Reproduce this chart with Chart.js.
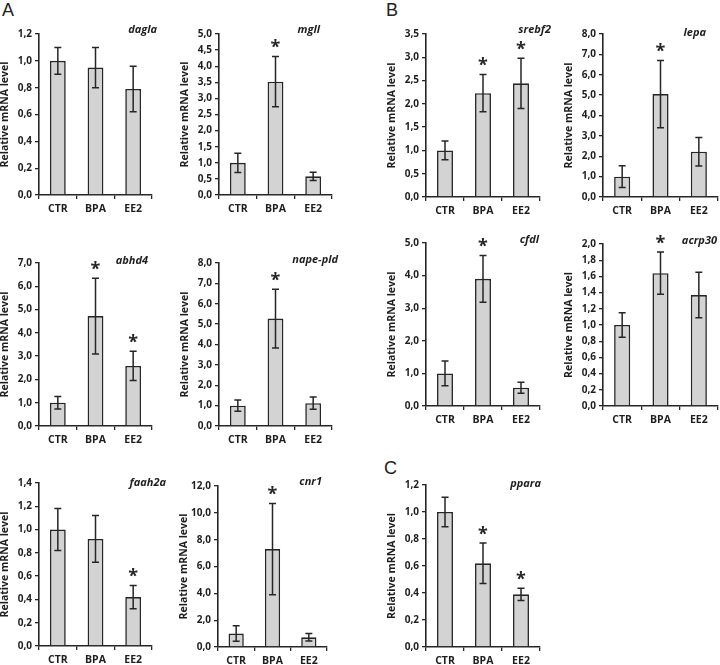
<!DOCTYPE html>
<html><head><meta charset="utf-8">
<script src="https://cdn.jsdelivr.net/npm/chart.js@4"></script>
<style>
body{margin:0;background:#fff;width:720px;height:665px;position:relative;overflow:hidden;font-family:'Liberation Sans',Arial,sans-serif}
canvas.c{position:absolute}
.lbl{position:absolute;font-size:18px;color:#222;line-height:1}
</style></head><body>
<div class="lbl" style="left:2px;top:1px">A</div>
<div class="lbl" style="left:386px;top:1px">B</div>
<div class="lbl" style="left:384px;top:459px">C</div>
<script>
// ---- data ----
const categories = ['CTR', 'BPA', 'EE2'];
const geneNames = ['dagla','mgll','abhd4','nape-pld','faah2a','cnr1','srebf2','lepa','cfdl','acrp30','ppara'];

const daglaMean = [1.00, 0.95, 0.79];   const daglaErr = [0.10, 0.15, 0.17];   const daglaSig = [0,0,0];
const mgllMean = [1.00, 3.52, 0.58];    const mgllErr = [0.30, 0.78, 0.13];    const mgllSig = [0,1,0];
const abhd4Mean = [1.00, 4.72, 2.58];   const abhd4Err = [0.27, 1.63, 0.63];   const abhd4Sig = [0,1,1];
const napeMean = [1.00, 5.27, 1.12];    const napeErr = [0.28, 1.44, 0.30];    const napeSig = [0,1,0];
const faahMean = [1.00, 0.92, 0.42];    const faahErr = [0.18, 0.20, 0.10];    const faahSig = [0,0,1];
const cnr1Mean = [1.00, 7.30, 0.72];    const cnr1Err = [0.58, 3.40, 0.28];    const cnr1Sig = [0,1,0];
const srebf2Mean = [1.00, 2.23, 2.44];  const srebf2Err = [0.20, 0.40, 0.54];  const srebf2Sig = [0,1,1];
const lepaMean = [1.00, 5.05, 2.22];    const lepaErr = [0.53, 1.65, 0.70];    const lepaSig = [0,1,0];
const cfdlMean = [1.00, 3.90, 0.56];    const cfdlErr = [0.38, 0.72, 0.17];    const cfdlSig = [0,1,0];
const acrpMean = [1.00, 1.64, 1.37];    const acrpErr = [0.15, 0.26, 0.28];    const acrpSig = [0,1,0];
const pparaMean = [1.00, 0.62, 0.39];   const pparaErr = [0.11, 0.15, 0.045];  const pparaSig = [0,1,1];

// y-axis ranges (tick labels)
const yMax  = [1.2, 5.0, 7.0, 8.0, 1.4, 12.0, 3.5, 8.0, 5.0, 2.0, 1.2];
const yStep = [0.2, 0.5, 1.0, 1.0, 0.2, 2.0, 0.5, 1.0, 1.0, 0.2, 0.2];

const means = [daglaMean, mgllMean, abhd4Mean, napeMean, faahMean, cnr1Mean, srebf2Mean, lepaMean, cfdlMean, acrpMean, pparaMean];
const errs  = [daglaErr, mgllErr, abhd4Err, napeErr, faahErr, cnr1Err, srebf2Err, lepaErr, cfdlErr, acrpErr, pparaErr];
const sigs  = [daglaSig, mgllSig, abhd4Sig, napeSig, faahSig, cnr1Sig, srebf2Sig, lepaSig, cfdlSig, acrpSig, pparaSig];

// ---- layout (plot area: axis x, top, bottom, right; title offsets) ----
const boxes = [
  {ax:39,  top:34,  bottom:195, right:152, tdx:5,   tdy:-4},
  {ax:219, top:34,  bottom:195, right:332, tdx:-12, tdy:-4},
  {ax:39,  top:263, bottom:426, right:152, tdx:-4,  tdy:-2},
  {ax:219, top:263, bottom:426, right:332, tdx:6,   tdy:-3},
  {ax:39,  top:483, bottom:646, right:152, tdx:14,  tdy:0},
  {ax:218, top:486, bottom:647, right:327, tdx:-5,  tdy:-4},
  {ax:426, top:34,  bottom:197, right:540, tdx:11,  tdy:-4},
  {ax:603, top:34,  bottom:197, right:718, tdx:-12, tdy:-1},
  {ax:426, top:243, bottom:406, right:540, tdx:-1,  tdy:-3},
  {ax:603, top:244, bottom:406, right:718, tdx:-1,  tdy:-3},
  {ax:426, top:485, bottom:647, right:540, tdx:1,   tdy:-1}
];

const INK = '#262626';
const TXT = '#1e1e1e';
const FONT = "'Open Sans', 'DejaVu Sans', sans-serif";

const extrasPlugin = {
  id: 'extras',
  afterDatasetsDraw(chart, args, opts) {
    const ctx = chart.ctx;
    const ys = chart.scales.y;
    const meta = chart.getDatasetMeta(0);
    ctx.save();
    ctx.strokeStyle = INK;
    ctx.lineWidth = 1.5;
    meta.data.forEach((el, i) => {
      const m = opts.mean[i], e = opts.err[i];
      const yt = ys.getPixelForValue(m + e), yb = ys.getPixelForValue(m - e);
      const x = el.x;
      ctx.beginPath();
      ctx.moveTo(x, yt); ctx.lineTo(x, yb);
      ctx.moveTo(x - 3.5, yt); ctx.lineTo(x + 3.5, yt);
      ctx.moveTo(x - 3.5, yb); ctx.lineTo(x + 3.5, yb);
      ctx.stroke();
      if (opts.sig[i]) {
        ctx.fillStyle = INK;
        ctx.font = "bold 18px " + FONT;
        ctx.textAlign = 'center';
        ctx.textBaseline = 'alphabetic';
        const cy = yt - 14;
        ctx.fillText('*', x, cy + 0.6 * 18);
      }
    });
    // gene title
    const ca = chart.chartArea;
    ctx.fillStyle = TXT;
    ctx.font = "italic bold 11px " + FONT;
    ctx.textAlign = 'right';
    ctx.textBaseline = 'middle';
    ctx.fillText(opts.name, ca.right + opts.tdx, ca.top + opts.tdy);
    ctx.restore();
  }
};

function fmt(v) { return (Math.round(v * 10) / 10).toFixed(1).replace('.', ','); }

geneNames.forEach((name, k) => {
  const b = boxes[k];
  const left = b.ax - 40, top = b.top - 20;
  const padR = 30;
  const W = (b.right - b.ax) + 40 + padR;
  const H = (b.bottom - b.top) + 20 + 26;
  const cv = document.createElement('canvas');
  cv.className = 'c';
  cv.width = W; cv.height = H;
  cv.style.left = left + 'px'; cv.style.top = top + 'px';
  cv.style.width = W + 'px'; cv.style.height = H + 'px';
  document.body.appendChild(cv);
  new Chart(cv, {
    type: 'bar',
    data: {
      labels: categories,
      datasets: [{
        data: means[k],
        backgroundColor: '#d3d3d3',
        borderColor: INK,
        borderWidth: 1.6,
        barPercentage: 0.42,
        categoryPercentage: 1.0
      }]
    },
    options: {
      responsive: false,
      maintainAspectRatio: false,
      animation: false,
      devicePixelRatio: 1,
      events: [],
      layout: { padding: { top: 20, right: padR, bottom: 0, left: 0 } },
      plugins: {
        legend: { display: false },
        tooltip: { enabled: false },
        extras: { mean: means[k], err: errs[k], sig: sigs[k], name: name, tdx: b.tdx, tdy: b.tdy }
      },
      scales: {
        x: {
          offset: true,
          grid: { offset: true, drawOnChartArea: false, tickLength: 4, color: INK, lineWidth: 1.3 },
          border: { color: INK, width: 1.6 },
          ticks: { font: { family: FONT, weight: 'bold', size: 10.5 }, color: TXT, padding: 4 },
          afterFit: s => { s.height = 26; }
        },
        y: {
          min: 0, max: yMax[k],
          grid: { drawOnChartArea: false, tickLength: 4, color: INK, lineWidth: 1.3 },
          border: { color: INK, width: 1.6 },
          ticks: { stepSize: yStep[k], callback: v => fmt(v), font: { family: FONT, weight: 'bold', size: 10 }, color: TXT, padding: 3 },
          title: { display: true, text: 'Relative mRNA level', font: { family: FONT, weight: 'bold', size: 10.5 }, color: TXT, padding: 0 },
          afterFit: s => { s.width = 40; }
        }
      }
    },
    plugins: [extrasPlugin]
  });
});
</script>
</body></html>
